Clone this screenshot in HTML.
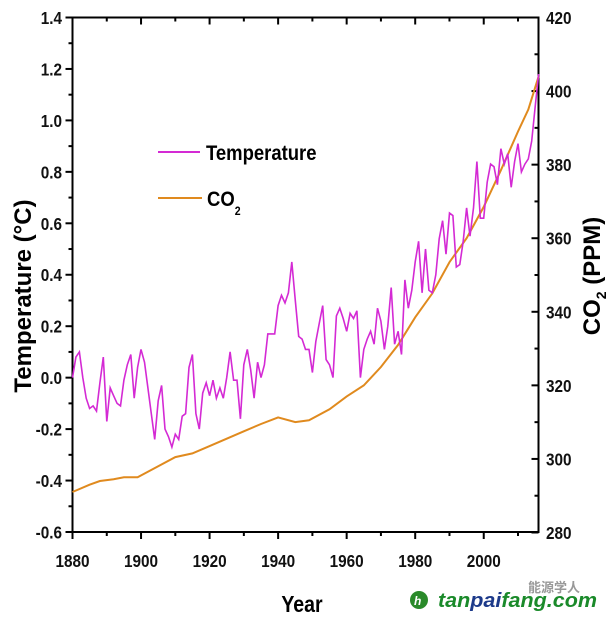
<!DOCTYPE html>
<html><head><meta charset="utf-8"><style>
html,body{margin:0;padding:0;background:#fff;width:607px;height:621px;overflow:hidden}
svg text{font-family:"Liberation Sans",sans-serif;font-weight:bold}
</style></head><body>
<svg id="s" width="607" height="621" viewBox="0 0 607 621" xmlns="http://www.w3.org/2000/svg">
<g id="ax" stroke="#000" stroke-width="2" fill="none"></g>
<g id="lbl" font-size="18" fill="#111"></g>
<polyline id="co2" fill="none" stroke="#e08a1e" stroke-width="2"/>
<polyline id="tmp" fill="none" stroke="#d42ad4" stroke-width="1.6"/>
<line x1="158" y1="152" x2="200" y2="152" stroke="#d42ad4" stroke-width="2"/>
<text x="206" y="160" font-size="21" transform="translate(206 0) scale(0.88 1) translate(-206 0)">Temperature</text>
<line x1="158" y1="198" x2="202" y2="198" stroke="#e08a1e" stroke-width="2"/>
<text x="207" y="206" font-size="21" transform="translate(207 0) scale(0.88 1) translate(-207 0)">CO<tspan font-size="12" dy="9">2</tspan></text>
<text x="302" y="612" font-size="23" text-anchor="middle" transform="translate(302 0) scale(0.85 1) translate(-302 0)">Year</text>
<text transform="translate(31 296) rotate(-90)" font-size="24" text-anchor="middle">Temperature (°C)</text>
<text transform="translate(600 276) rotate(-90)" font-size="24" text-anchor="middle">CO<tspan font-size="14" dy="6">2</tspan><tspan dy="-6"> (PPM)</tspan></text>
<text x="528" y="592" font-size="13" fill="#999" font-weight="normal" style="font-family:'Liberation Sans','Noto Sans CJK SC',sans-serif">能源学人</text>
<circle cx="419" cy="600" r="9" fill="#2a8a2a"/>
<text x="414" y="605" font-size="12" fill="#fff" font-style="italic">h</text>
<text x="438" y="607" font-size="20" font-style="italic" fill="#1a8a2a" textLength="159" lengthAdjust="spacingAndGlyphs">tan<tspan fill="#1d3a8a">pai</tspan>fang.com</text>
</svg>
<script>
var X=y=>72.5+(y-1880)*3.427, YL=v=>532-(v+0.6)*257.25, YR=v=>17.5+(420-v)*3.6786;
var ax=document.getElementById('ax'),lb=document.getElementById('lbl'),h='',t='';
h+='<rect x="72.5" y="17.5" width="466" height="514.5"/>';
for(var y=1880;y<=2010;y+=10){var x=X(y),big=y%20==0;h+='<line x1="'+x+'" y1="532" x2="'+x+'" y2="'+(532+(big?7:4))+'"/><line x1="'+x+'" y1="17.5" x2="'+x+'" y2="'+(17.5+(big?7:4))+'"/>';if(big)t+='<text x="'+x+'" y="567" text-anchor="middle" transform="translate('+x+' 0) scale(0.85 1) translate('+(-x)+' 0)">'+y+'</text>';}
for(var i=0;i<=20;i++){var v=-0.6+i*0.1,yy=YL(v),big=i%2==0;h+='<line x1="72.5" y1="'+yy+'" x2="'+(72.5-(big?7:4))+'" y2="'+yy+'"/>';if(big)t+='<text x="62" y="'+(yy+6.5)+'" text-anchor="end" transform="translate(62 0) scale(0.85 1) translate(-62 0)">'+v.toFixed(1).replace('-0.0','0.0')+'</text>';}
for(var p=280;p<=420;p+=10){var yy=YR(p),big=p%20==0;h+='<line x1="538.5" y1="'+yy+'" x2="'+(538.5-(big?7:4))+'" y2="'+yy+'"/>';if(big)t+='<text x="546" y="'+(yy+6.5)+'" transform="translate(546 0) scale(0.85 1) translate(-546 0)">'+p+'</text>';}
ax.innerHTML=h;lb.innerHTML=t;
var T=[0,.08,.1,0,-.08,-.12,-.11,-.13,-.02,.08,-.17,-.04,-.07,-.1,-.11,-.01,.05,.09,-.08,.04,.11,.06,-.04,-.14,-.24,-.09,-.03,-.2,-.23,-.27,-.22,-.24,-.15,-.14,.04,.09,-.14,-.2,-.06,-.02,-.07,-.01,-.08,-.04,-.08,0,.1,-.01,-.01,-.16,.05,.11,.03,-.08,.06,0,.05,.17,.17,.17,.28,.32,.29,.33,.45,.3,.16,.15,.11,.11,.02,.14,.21,.28,.07,.05,0,.24,.27,.23,.18,.25,.23,.26,0,.11,.15,.18,.13,.27,.22,.11,.2,.35,.13,.18,.09,.38,.27,.34,.45,.53,.33,.5,.34,.33,.4,.54,.61,.48,.64,.63,.43,.44,.53,.66,.55,.66,.84,.62,.62,.76,.83,.82,.75,.89,.83,.87,.74,.84,.91,.8,.83,.85,.92,1.05,1.18];
document.getElementById('tmp').setAttribute('points',T.map((v,i)=>X(1880+i).toFixed(1)+','+YL(v).toFixed(1)).join(' '));
var C=[[1880,291],[1885,293],[1888,294],[1892,294.5],[1895,295],[1899,295],[1905,298],[1910,300.5],[1915,301.5],[1920,303.5],[1925,305.5],[1930,307.5],[1935,309.5],[1940,311.3],[1945,310],[1949,310.5],[1955,313.5],[1960,317],[1965,320],[1970,325],[1975,331],[1980,338.5],[1985,345],[1990,353.5],[1995,360],[2000,368.5],[2005,378.5],[2010,389],[2013,395],[2016,404]];
document.getElementById('co2').setAttribute('points',C.map(c=>X(c[0]).toFixed(1)+','+YR(c[1]).toFixed(1)).join(' '));
</script>
</body></html>
